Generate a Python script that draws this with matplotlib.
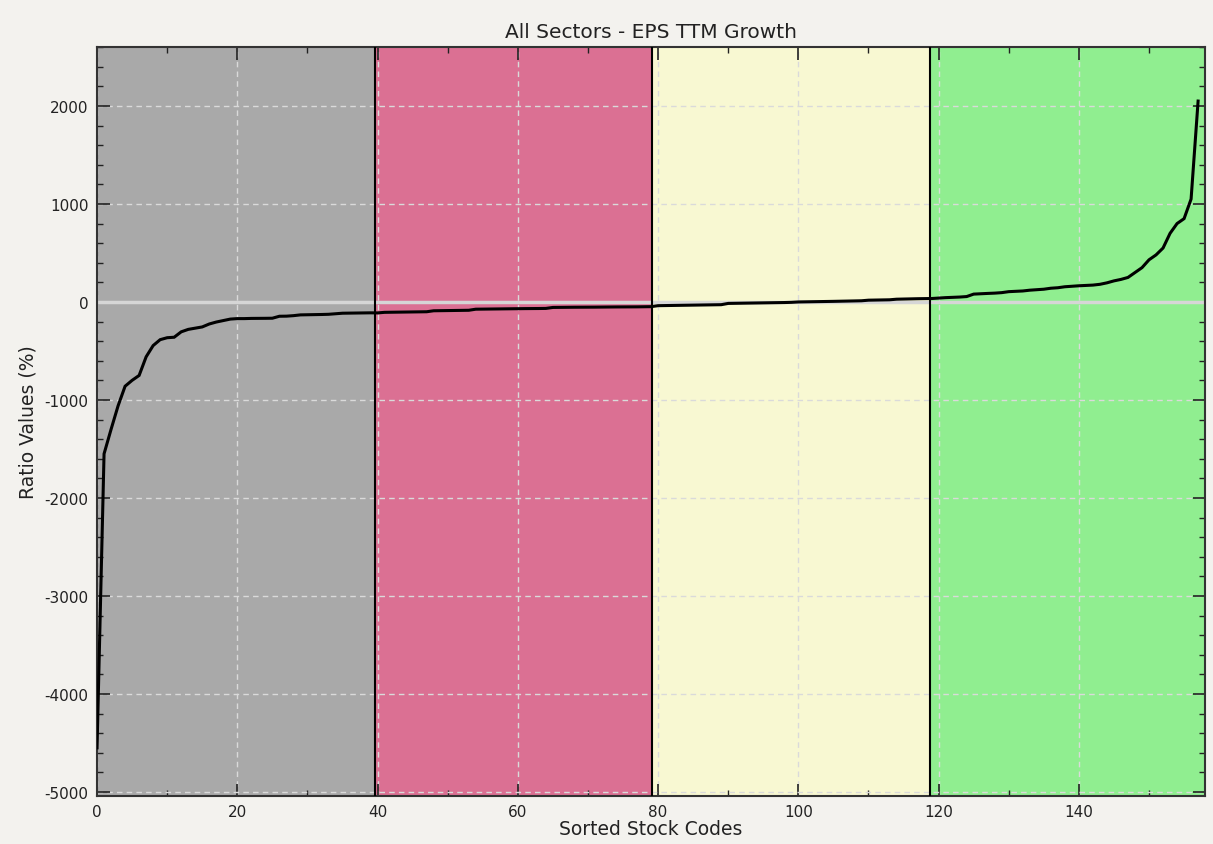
import matplotlib
matplotlib.use("Agg")
import matplotlib.pyplot as plt
from matplotlib.ticker import MultipleLocator
import numpy as np

plt.rcParams["axes.unicode_minus"] = False

title = "All Sectors - EPS TTM Growth"
x_label = "Sorted Stock Codes"
y_label = "Ratio Values (%)"

eps_growth = [
    -4550, -1550, -1300, -1060, -860, -800, -750, -560, -445, -385,
    -365, -360, -305, -280, -268, -255, -225, -205, -190, -175,
    -170, -170, -168, -168, -167, -166, -146, -145, -140, -132,
    -131, -130, -128, -126, -120, -115, -114, -113, -112, -111,
    -112, -106, -105, -104, -103, -102, -101, -100, -90, -89,
    -88, -87, -86, -85, -74, -73, -72, -71, -70, -70,
    -69, -68, -68, -67, -66, -56, -55, -55, -54, -54,
    -53, -53, -52, -52, -51, -51, -50, -50, -49, -48,
    -38, -37, -36, -35, -34, -33, -32, -31, -30, -28,
    -15, -14, -13, -12, -11, -10, -9, -8, -6, -4,
    0, 1, 2, 4, 5, 6, 8, 9, 10, 12,
    18, 19, 21, 22, 28, 30, 31, 33, 34, 35,
    40, 44, 47, 50, 55, 80, 84, 87, 90, 95,
    105, 108, 112, 120, 125, 130, 140, 145, 155, 160,
    165, 168, 172, 180, 195, 215, 230, 250, 300, 350,
    430, 480, 550, 700, 800, 850, 1050, 2050,
]

band_edges = [0, 39.6, 79.2, 118.8, 158]
band_colors = ["#a9a9a9", "#db7093", "#f8f8d2", "#90ee90"]

bg = "#f3f2ee"
fig = plt.figure(figsize=(12.13, 8.45), dpi=100, facecolor=bg)
ax = fig.add_axes([0.080, 0.057, 0.9135, 0.886])

x = np.arange(len(eps_growth))

for i, c in enumerate(band_colors):
    ax.axvspan(band_edges[i], band_edges[i + 1], color=c, zorder=0, lw=0)
for e in band_edges[1:-1]:
    ax.axvline(e, color="black", lw=1.5, zorder=3)

ax.grid(True, which="major", color="#dadada", linestyle=(0, (4, 3)), lw=1.0, zorder=1)
ax.axhline(0, color="#d6d6d6", lw=2.5, zorder=2)
ax.plot(x, eps_growth, color="black", lw=2.2, zorder=4, solid_joinstyle="miter")

ax.set_xlim(0, 158)
ax.set_ylim(-5040, 2600)
ax.xaxis.set_major_locator(MultipleLocator(20))
ax.xaxis.set_minor_locator(MultipleLocator(10))
ax.yaxis.set_major_locator(MultipleLocator(1000))
ax.yaxis.set_minor_locator(MultipleLocator(200))
ax.tick_params(which="both", direction="in", top=True, right=True, color="#222222")
ax.tick_params(which="major", length=9, width=1.2, labelsize=11, labelcolor="#222222", pad=6)
ax.tick_params(which="minor", length=4.5, width=1.0)
for s in ax.spines.values():
    s.set_color("#333333")
    s.set_linewidth(1.5)

ax.set_title(title, fontsize=14.5, color="#222222", pad=7)
ax.set_xlabel(x_label, fontsize=13.5, color="#222222", labelpad=0)
ax.set_ylabel(y_label, fontsize=13.5, color="#222222", labelpad=5)

fig.savefig("out.png", dpi=100, facecolor=bg)
